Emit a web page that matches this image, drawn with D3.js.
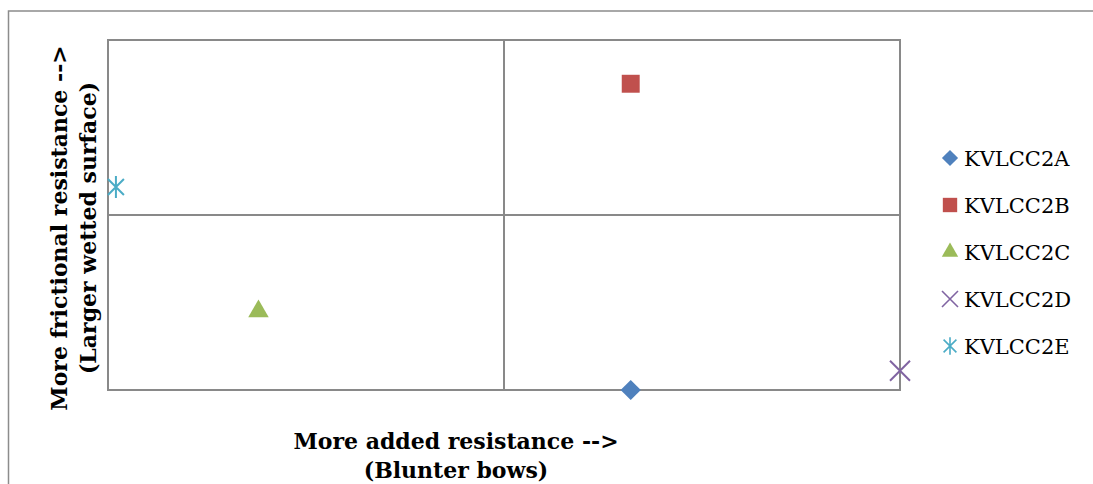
<!DOCTYPE html>
<html>
<head>
<meta charset="utf-8">
<script src="https://cdn.jsdelivr.net/npm/d3@7"></script>
<style>
  body { margin: 0; background: #fff; }
  svg { display: block; }
</style>
</head>
<body>
<svg></svg>
<script>
var width = 1093, height = 484;

// series, one point each
var names = ["KVLCC2A", "KVLCC2B", "KVLCC2C", "KVLCC2D", "KVLCC2E"];
var xVals = [0.32, 0.32, -0.62, 1.0, -0.98];
var yVals = [-1.0, 0.75, -0.55, -0.89, 0.16];
var colors = ["#4F81BD", "#C0504D", "#9BBB59", "#8064A2", "#4BACC6"];
var shapes = ["diamond", "square", "triangle", "x", "star"];

var xTitle = ["More added resistance -->", "(Blunter bows)"];
var yTitle = ["More frictional resistance -->", "(Larger wetted surface)"];

var svg = d3.select("svg")
    .attr("width", width)
    .attr("height", height);

var plot = {left: 108, top: 40, right: 900, bottom: 390};

var x = d3.scaleLinear().domain([-1, 1]).range([plot.left, plot.right]);
var y = d3.scaleLinear().domain([-1, 1]).range([plot.bottom, plot.top]);

// outer chart border (runs off the right and bottom edge)
svg.append("rect")
    .attr("x", 8.5).attr("y", 11)
    .attr("width", 1100).attr("height", 500)
    .attr("fill", "none")
    .attr("stroke", "#8c8c8c")
    .attr("stroke-width", 1.5);

// plot area
svg.append("rect")
    .attr("x", x(-1)).attr("y", y(1))
    .attr("width", x(1) - x(-1)).attr("height", y(-1) - y(1))
    .attr("fill", "none")
    .attr("stroke", "#898989")
    .attr("stroke-width", 2);

// quadrant lines at zero
svg.append("line")
    .attr("x1", x(0)).attr("x2", x(0))
    .attr("y1", y(1)).attr("y2", y(-1))
    .attr("stroke", "#898989").attr("stroke-width", 2);
svg.append("line")
    .attr("x1", x(-1)).attr("x2", x(1))
    .attr("y1", y(0)).attr("y2", y(0))
    .attr("stroke", "#898989").attr("stroke-width", 2);

function markerPath(shape) {
    if (shape == "diamond") return d3.symbol(d3.symbolDiamond2, 260)();
    if (shape == "square") return d3.symbol(d3.symbolSquare2, 410)();
    if (shape == "triangle") return d3.symbol(d3.symbolTriangle2, 300)();
    if (shape == "x") return "M-10,-10L10,10M-10,10L10,-10";
    // asterisk
    return "M-8,-8L8,8M-8,8L8,-8M0,-11L0,11";
}

function drawMarker(g, i) {
    var shape = shapes[i];
    var p = g.append("path").attr("d", markerPath(shape));
    if (shape == "x" || shape == "star") {
        p.attr("fill", "none").attr("stroke", colors[i]).attr("stroke-width", 2);
    } else {
        p.attr("fill", colors[i]);
    }
}

var pts = svg.append("g")
    .selectAll("g")
    .data(names)
    .join("g")
    .attr("transform", (d, i) => "translate(" + x(xVals[i]) + "," + y(yVals[i]) + ")");
pts.each(function(d, i) { drawMarker(d3.select(this), i); });

// axis titles
var titleFont = "'DejaVu Serif', serif";
svg.append("g")
    .selectAll("text")
    .data(xTitle)
    .join("text")
    .attr("x", 456)
    .attr("y", (d, i) => 449 + i * 29)
    .attr("text-anchor", "middle")
    .attr("font-family", titleFont)
    .attr("font-weight", "bold")
    .attr("font-size", 22)
    .text(d => d);

svg.append("g")
    .selectAll("text")
    .data(yTitle)
    .join("text")
    .attr("transform", (d, i) => "translate(" + (67 + i * 29) + ",228) rotate(-90)")
    .attr("text-anchor", "middle")
    .attr("font-family", titleFont)
    .attr("font-weight", "bold")
    .attr("font-size", 22)
    .text(d => d);

// legend
var legend = svg.append("g")
    .selectAll("g")
    .data(names)
    .join("g")
    .attr("transform", (d, i) => "translate(950," + (158 + i * 47) + ")");

legend.append("g")
    .attr("transform", "scale(0.8)")
    .each(function(d, i) { drawMarker(d3.select(this), i); });

legend.append("text")
    .attr("x", 14)
    .attr("y", 8)
    .attr("font-family", "'DejaVu Serif', serif")
    .attr("font-size", 21)
    .text(d => d);
</script>
</body>
</html>
